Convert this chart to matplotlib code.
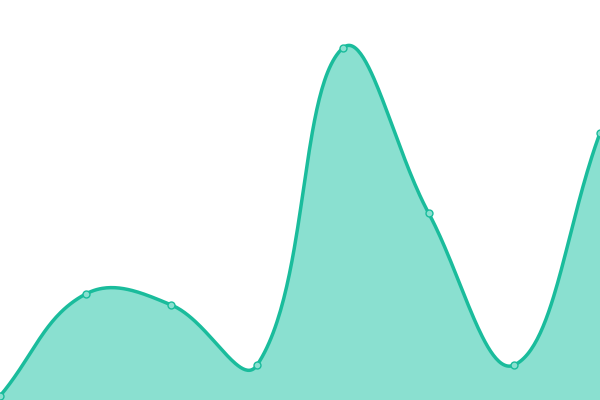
import numpy as np
import matplotlib
matplotlib.use("Agg")
import matplotlib.pyplot as plt

labels = ["A", "B", "C", "D", "E", "F", "G", "H"]
values = [4, 106, 95, 35, 352, 187, 35, 267]

LINE = "#1abc9c"
FILL = "#8ae0d0"

fig = plt.figure(figsize=(6, 4), dpi=100)
ax = fig.add_axes([0, 0, 1, 1])
n = len(values)
ax.set_xlim(0, n - 1)
ax.set_ylim(0, 400)
ax.axis("off")

# Chart.js-like spline in display coordinates
pts = ax.transData.transform(np.column_stack([np.arange(n), values]))
tension = 0.4
cps = []
for i in range(n):
    prev = pts[i - 1] if i > 0 else pts[i]
    cur = pts[i]
    nxt = pts[i + 1] if i < n - 1 else pts[i]
    d01 = np.hypot(*(cur - prev))
    d12 = np.hypot(*(nxt - cur))
    tot = d01 + d12
    s01 = d01 / tot if tot else 0
    s12 = d12 / tot if tot else 0
    fa = tension * s01
    fb = tension * s12
    cps.append((cur - fa * (nxt - prev), cur + fb * (nxt - prev)))

curve = []
t = np.linspace(0, 1, 60)[:, None]
for i in range(n - 1):
    p0 = pts[i]; p1 = cps[i][1]; p2 = cps[i + 1][0]; p3 = pts[i + 1]
    seg = (1 - t) ** 3 * p0 + 3 * (1 - t) ** 2 * t * p1 + 3 * (1 - t) * t ** 2 * p2 + t ** 3 * p3
    curve.append(seg if i == 0 else seg[1:])
curve = np.vstack(curve)
curve_data = ax.transData.inverted().transform(curve)

ax.fill_between(curve_data[:, 0], curve_data[:, 1], 0, color=FILL, lw=0)
ax.plot(curve_data[:, 0], curve_data[:, 1], color=LINE, lw=2.5, solid_capstyle="round", clip_on=False)
ax.plot(np.arange(n), values, "o", ms=5, mfc=FILL, mec=LINE, mew=1, clip_on=False)

fig.savefig("out.png", dpi=100)
